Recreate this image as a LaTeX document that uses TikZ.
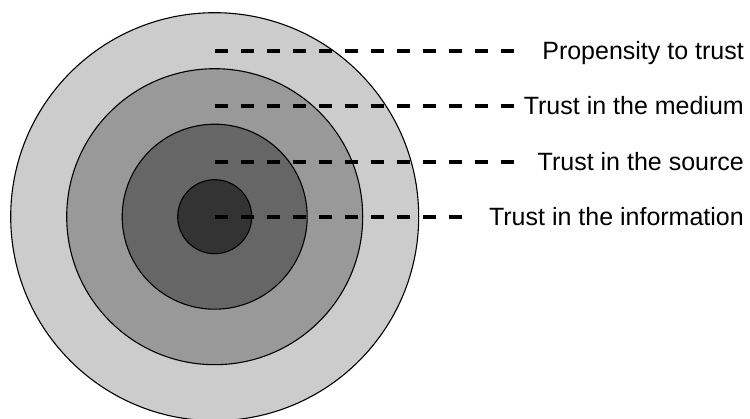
\documentclass[tikz,border=0pt]{standalone}
\usepackage{fontspec}
\setmainfont{Liberation Sans}
\usepackage{xcolor}

\begin{document}
\begin{tikzpicture}[x=1pt,y=-1pt,
    ring/.style={draw=black,line width=1.1pt},
    leader/.style={line width=3.8pt,dash pattern=on 13pt off 13pt},
    layer/.style={anchor=base east,inner sep=0pt,font=\fontsize{25}{30}\selectfont}]
  \useasboundingbox (0,0) rectangle (750,419);
  \coordinate (o) at (214.7,216.7);
  \filldraw[ring,fill=black!20] (o) circle [radius=204pt];
  \filldraw[ring,fill=black!40] (o) circle [radius=148pt];
  \filldraw[ring,fill=black!60] (o) circle [radius=92.5pt];
  \filldraw[ring,fill=black!80] (o) circle [radius=37pt];
  \node[layer] (propensity) at (744,59.7) {Propensity to trust};
  \node[layer] (medium) at (744,115) {Trust in the medium};
  \node[layer] (source) at (744,170.7) {Trust in the source};
  \node[layer] (information) at (744,225.7) {Trust in the information};
  \coordinate (s1) at (214.7,50.7);
  \coordinate (s2) at (214.7,106);
  \coordinate (s3) at (214.7,161.7);
  \coordinate (e1) at (513.7,50.7);
  \coordinate (e2) at (513.7,106);
  \coordinate (e3) at (513.7,161.7);
  \coordinate (e4) at (461.7,216.7);
  \draw[leader] (s1) -- (e1);
  \draw[leader] (s2) -- (e2);
  \draw[leader] (s3) -- (e3);
  \draw[leader] (o) -- (e4);
\end{tikzpicture}
\end{document}
